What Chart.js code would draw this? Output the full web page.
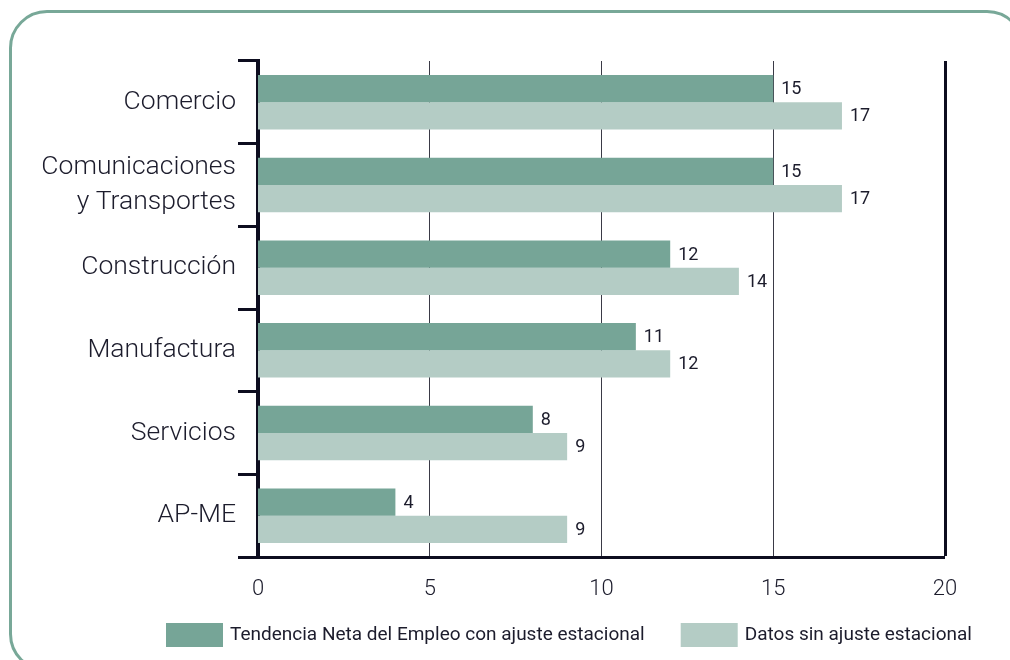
<!DOCTYPE html>
<html>
<head>
<meta charset="utf-8">
<script src="https://cdn.jsdelivr.net/npm/chart.js@4/dist/chart.umd.min.js"></script>
<style>
    html, body { margin: 0; padding: 0; background: #fff; overflow: hidden; }
    #marco {
        position: absolute; left: 9px; top: 10px;
        width: 1010px; height: 656px;
        border: 3px solid #78a898; border-radius: 38px;
        pointer-events: none;
    }
    #caja { position: absolute; left: 0; top: 0; width: 1010px; height: 660px; overflow: hidden; }
</style>
</head>
<body>
<div id="caja"><canvas id="grafico" width="1010" height="660"></canvas></div>
<div id="marco"></div>
<script>
// Datos del gráfico
const categorias = ['Comercio', ['Comunicaciones', 'y Transportes'], 'Construcción', 'Manufactura', 'Servicios', 'AP-ME'];
const conAjuste = [15, 15, 12, 11, 8, 4];
const sinAjuste = [17, 17, 14, 12, 9, 9];
const ticksX = [0, 5, 10, 15, 20];
const nombresSeries = ['Tendencia Neta del Empleo con ajuste estacional', 'Datos sin ajuste estacional'];

const colorOscuro = '#76a597';
const colorClaro = '#b4ccc5';
const colorTexto = '#1c1c2c';
const colorEje = '#0d0d1f';
const fuente = 'Roboto, "Liberation Sans", sans-serif';

// Etiquetas de valor al final de cada barra
const etiquetasValor = {
    id: 'etiquetasValor',
    afterDatasetsDraw(chart) {
        const ctx = chart.ctx;
        ctx.save();
        ctx.font = '400 18px ' + fuente;
        ctx.fillStyle = colorTexto;
        ctx.textAlign = 'left';
        ctx.textBaseline = 'middle';
        chart.data.datasets.forEach((ds, i) => {
            const meta = chart.getDatasetMeta(i);
            meta.data.forEach((barra, j) => {
                ctx.fillText(ds.data[j], barra.x + 8, barra.y + 1);
            });
        });
        ctx.restore();
    }
};

// Leyenda inferior
const leyenda = {
    id: 'leyenda',
    afterDraw(chart) {
        const ctx = chart.ctx;
        ctx.save();
        ctx.font = '400 19px ' + fuente;
        ctx.textBaseline = 'middle';
        let x = 166;
        const y = 623;
        chart.data.datasets.forEach(ds => {
            ctx.fillStyle = ds.backgroundColor;
            ctx.fillRect(x, y, 57, 24);
            ctx.fillStyle = colorTexto;
            ctx.fillText(ds.label, x + 64, y + 12);
            x += 64 + ctx.measureText(ds.label).width + 36;
        });
        ctx.restore();
    }
};

const ctx = document.getElementById('grafico').getContext('2d');
new Chart(ctx, {
    type: 'bar',
    data: {
        labels: categorias,
        datasets: [
            { label: nombresSeries[0], data: conAjuste, backgroundColor: colorOscuro },
            { label: nombresSeries[1], data: sinAjuste, backgroundColor: colorClaro }
        ]
    },
    options: {
        indexAxis: 'y',
        responsive: false,
        animation: false,
        datasets: {
            bar: { categoryPercentage: 0.66, barPercentage: 1.0 }
        },
        layout: { padding: { top: 61, right: 65, bottom: 0, left: 0 } },
        scales: {
            x: {
                min: 0,
                max: 20,
                afterFit: s => { s.height = 103; },
                afterBuildTicks: s => { s.ticks = ticksX.map(v => ({ value: v })); },
                ticks: {
                    color: colorTexto,
                    padding: 19,
                    font: { family: fuente, size: 22, weight: '300' }
                },
                grid: {
                    drawTicks: false,
                    color: ctx => (ctx.tick && ctx.tick.value === 20) ? colorEje : '#3a3a46',
                    lineWidth: ctx => {
                        if (!ctx.tick) return 1;
                        if (ctx.tick.value === 0) return 0;
                        return ctx.tick.value === 20 ? 3 : 1;
                    }
                },
                border: { display: true, color: colorEje, width: 3 }
            },
            y: {
                afterFit: s => { s.width = 258; },
                ticks: {
                    color: colorTexto,
                    padding: 2,
                    font: { family: fuente, size: 26.5, weight: '300', lineHeight: 1.3 }
                },
                grid: {
                    offset: true,
                    drawOnChartArea: false,
                    drawTicks: true,
                    tickLength: 20,
                    lineWidth: 3,
                    color: colorEje
                },
                border: { display: true, color: colorEje, width: 4 }
            }
        },
        plugins: {
            legend: { display: false },
            tooltip: { enabled: false }
        }
    },
    plugins: [etiquetasValor, leyenda]
});
</script>
</body>
</html>
